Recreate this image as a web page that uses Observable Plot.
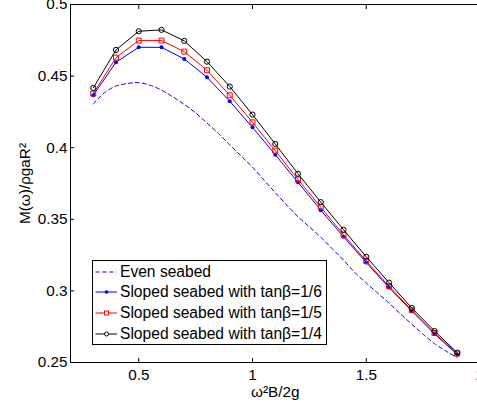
<!DOCTYPE html>
<html><head><meta charset="utf-8">
<script src="https://cdn.jsdelivr.net/npm/d3@7"></script>
<script src="https://cdn.jsdelivr.net/npm/@observablehq/plot@0.6"></script>
<style>
html,body{margin:0;padding:0;background:#fff;overflow:hidden}
#wrap{position:relative;width:477px;height:410px;font-family:'Liberation Sans',Arial,sans-serif}
#legend{position:absolute;left:92px;top:260px;width:235px;height:85px;box-sizing:border-box;border:1px solid #000;background:#fff;font-size:15.6px;color:#000}
.row{position:absolute;left:0;height:20px;display:flex;align-items:center;white-space:nowrap}
.row svg{display:block;margin-left:1.5px;margin-right:2.5px}
</style></head><body>
<div id="wrap"><div id="chart"></div><div id="legend"></div></div>
<script>
// ---- data ----
const omega = [0.3,0.4,0.5,0.6,0.7,0.8,0.9,1.0,1.1,1.2,1.3,1.4,1.5,1.6,1.7,1.8,1.9];
const slope16 = [0.4366,0.4597,0.4701,0.4701,0.4620,0.4492,0.4324,0.4142,0.3951,0.3758,0.3564,0.3378,0.3198,0.3023,0.2860,0.2699,0.2556];
const slope15 = [0.4378,0.4629,0.4748,0.4748,0.4671,0.4541,0.4366,0.4177,0.3979,0.3778,0.3585,0.3392,0.3208,0.3033,0.2865,0.2706,0.2562];
const slope14 = [0.4417,0.4683,0.4813,0.4823,0.4746,0.4601,0.4427,0.4231,0.4026,0.3818,0.3620,0.3427,0.3238,0.3058,0.2881,0.2720,0.2569];
const evenOmega = [0.30,0.35,0.40,0.45,0.50,0.55,0.60,0.65,0.70,0.75,0.80,0.85,0.90,0.95,1.00,1.05,1.10,1.15,1.20,1.25,1.30,1.35,1.40,1.45,1.50,1.55,1.60,1.65,1.70,1.75,1.80,1.85,1.90];
const evenSeabed = [0.4305,0.4385,0.4430,0.4448,0.4454,0.4436,0.4402,0.4355,0.4302,0.4243,0.4172,0.4100,0.4020,0.3942,0.3864,0.3774,0.3687,0.3600,0.3518,0.3447,0.3375,0.3295,0.3215,0.3128,0.3055,0.2985,0.2915,0.2840,0.2768,0.2697,0.2632,0.2580,0.2532];
const xTicks = [0.5,1,1.5,2];
const yTicks = [0.25,0.3,0.35,0.4,0.45,0.5];
const legendLabels = ["Even seabed","Sloped seabed with tan\u03b2=1/6","Sloped seabed with tan\u03b2=1/5","Sloped seabed with tan\u03b2=1/4"];
const xLabel = "\u03c9\u00b2B/2g";
const yLabel = "M(\u03c9)/\u03c1gaR\u00b2";

// ---- styles ----
const BLUE = "#0000ff", RED = "#ff0000", BLACK = "#000000";
const styles = [
  {stroke: BLUE, dash: "4,3", symbol: null},
  {stroke: BLUE, dash: null, symbol: "dot"},
  {stroke: RED, dash: null, symbol: "square"},
  {stroke: BLACK, dash: null, symbol: "ring"}
];

const rows = (xs, ys) => xs.map((x, i) => ({x, y: ys[i]}));
const even = rows(evenOmega, evenSeabed);
const s16 = rows(omega, slope16);
const s15 = rows(omega, slope15);
const s14 = rows(omega, slope14);
const fmt = d3.format("~g");

const chart = Plot.plot({
  width: 477, height: 410,
  marginLeft: 70, marginRight: -2.5, marginTop: 4, marginBottom: 48,
  style: {fontFamily: "'Liberation Sans', Arial, sans-serif", fontSize: "15.3px", color: "black", background: "white", overflow: "visible"},
  x: {domain: [0.2, 2]},
  y: {domain: [0.25, 0.5]},
  marks: [
    Plot.line(even, {x: "x", y: "y", stroke: BLUE, strokeWidth: 1, strokeDasharray: "4,3", curve: "catmull-rom"}),
    Plot.line(s16, {x: "x", y: "y", stroke: BLUE, strokeWidth: 1}),
    Plot.dot(s16, {x: "x", y: "y", r: 2, fill: BLUE, stroke: "none"}),
    Plot.line(s15, {x: "x", y: "y", stroke: RED, strokeWidth: 1}),
    Plot.dot(s15, {x: "x", y: "y", symbol: "square", r: 2.8, fill: "none", stroke: RED, strokeWidth: 1}),
    Plot.line(s14, {x: "x", y: "y", stroke: BLACK, strokeWidth: 1}),
    Plot.dot(s14, {x: "x", y: "y", r: 2.6, fill: "none", stroke: BLACK, strokeWidth: 1}),
    Plot.frame({stroke: "black", strokeWidth: 1}),
    Plot.axisY({ticks: yTicks, tickSize: -4, tickPadding: 7, tickFormat: fmt, label: null}),
    Plot.axisX({ticks: xTicks, tickSize: -4, tickPadding: 10.4, tickFormat: fmt, label: null}),
    Plot.axisX({anchor: "top", ticks: xTicks, tickSize: -4, tickFormat: () => "", label: null}),
    Plot.text([xLabel], {frameAnchor: "bottom", lineAnchor: "middle", textAnchor: "middle", dy: 30, text: d => d, fill: "black"}),
    Plot.text([yLabel], {frameAnchor: "left", lineAnchor: "middle", textAnchor: "middle", dx: -45, rotate: -90, text: d => d, fill: "black"})
  ]
});
document.getElementById("chart").appendChild(chart);

// ---- legend ----
const legend = document.getElementById("legend");
const NS = "http://www.w3.org/2000/svg";
legendLabels.forEach((label, i) => {
  const st = styles[i];
  const row = document.createElement("div");
  row.className = "row";
  row.style.top = (0.5 + i * 20.8) + "px";
  const svg = document.createElementNS(NS, "svg");
  svg.setAttribute("width", 23); svg.setAttribute("height", 20);
  const ln = document.createElementNS(NS, "line");
  ln.setAttribute("x1", 0.5); ln.setAttribute("x2", 22); ln.setAttribute("y1", 10); ln.setAttribute("y2", 10);
  ln.setAttribute("stroke", st.stroke); ln.setAttribute("stroke-width", 1);
  if (st.dash) ln.setAttribute("stroke-dasharray", st.dash);
  svg.appendChild(ln);
  if (st.symbol === "dot") {
    const c = document.createElementNS(NS, "circle");
    c.setAttribute("cx", 11.5); c.setAttribute("cy", 10); c.setAttribute("r", 1.8); c.setAttribute("fill", st.stroke);
    svg.appendChild(c);
  } else if (st.symbol === "square") {
    const r = document.createElementNS(NS, "rect");
    r.setAttribute("x", 9.5); r.setAttribute("y", 8); r.setAttribute("width", 4); r.setAttribute("height", 4);
    r.setAttribute("fill", "white"); r.setAttribute("stroke", st.stroke);
    svg.appendChild(r);
  } else if (st.symbol === "ring") {
    const c = document.createElementNS(NS, "circle");
    c.setAttribute("cx", 11.5); c.setAttribute("cy", 10); c.setAttribute("r", 2); c.setAttribute("fill", "white"); c.setAttribute("stroke", st.stroke);
    svg.appendChild(c);
  }
  row.appendChild(svg);
  const t = document.createElement("span");
  t.textContent = label;
  row.appendChild(t);
  legend.appendChild(row);
});
</script>
</body></html>
